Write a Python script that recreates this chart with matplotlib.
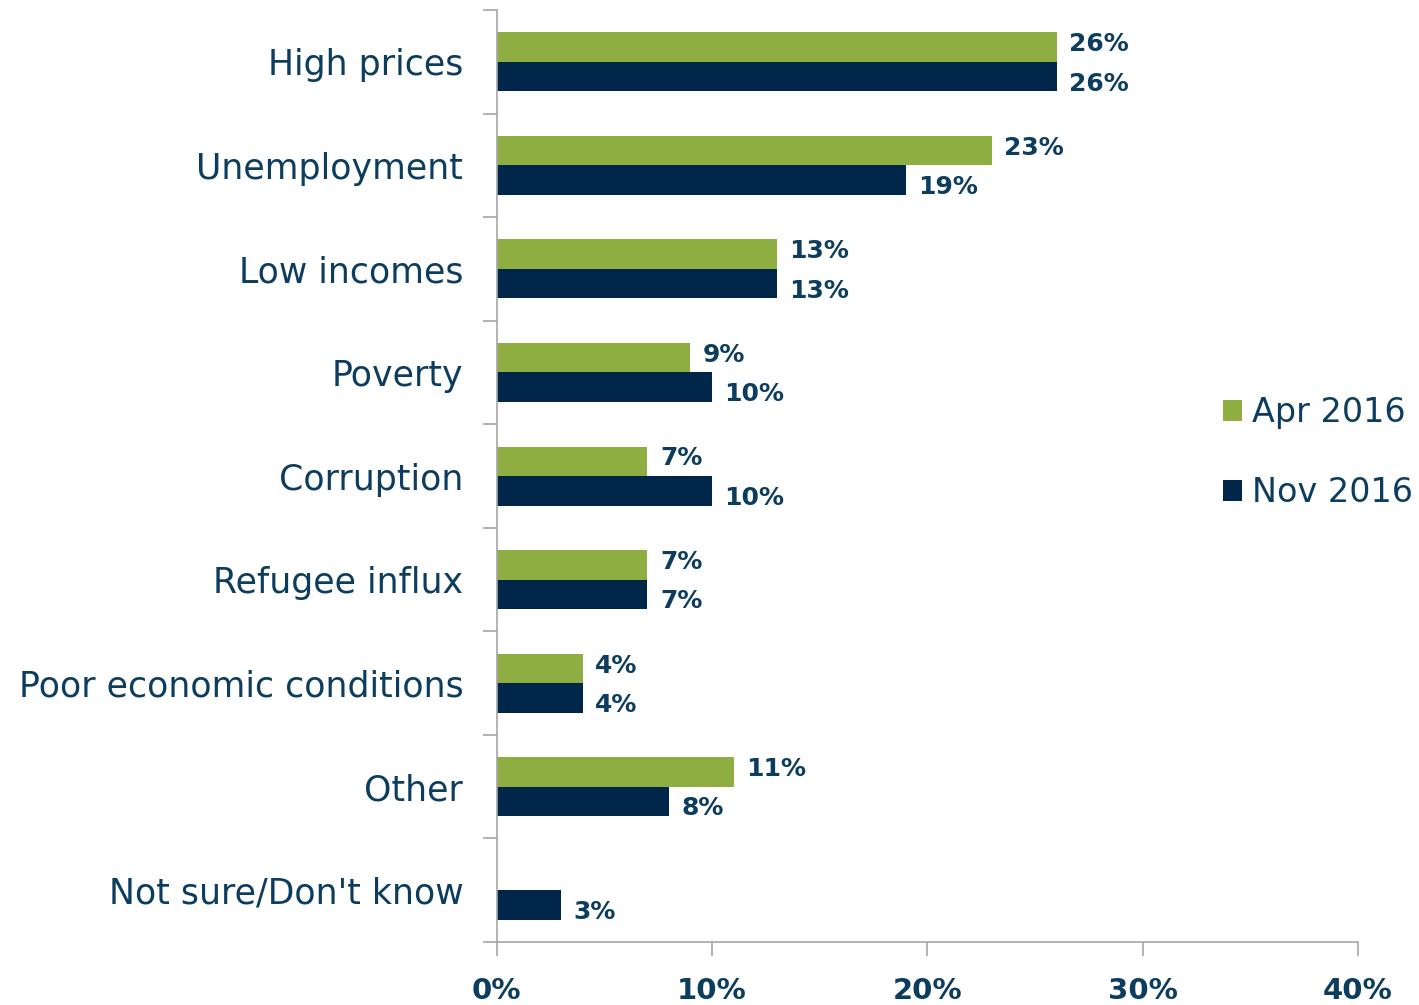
import matplotlib.pyplot as plt
import numpy as np
from matplotlib.ticker import FixedLocator

categories = ["High prices", "Unemployment", "Low incomes", "Poverty", "Corruption",
              "Refugee influx", "Poor economic conditions", "Other", "Not sure/Don't know"]
apr_2016 = [26, 23, 13, 9, 7, 7, 4, 11, None]
nov_2016 = [26, 19, 13, 10, 10, 7, 4, 8, 3]
xticks = [0, 10, 20, 30, 40]

green = "#8fae42"
navy = "#00264a"
txt = "#0d3d5e"
grey = "#a6a6a6"

plt.rcParams['font.family'] = ['DejaVu Sans']

fig = plt.figure(figsize=(14.19, 10.05), dpi=100)
ax = fig.add_axes([0.350, 0.0627, 0.607, 0.9273])

y = np.arange(len(categories))
h = 0.285
apr_vals = [v if v is not None else 0 for v in apr_2016]
b1 = ax.barh(y - h / 2, apr_vals, height=h, color=green, label="Apr 2016")
b2 = ax.barh(y + h / 2, nov_2016, height=h, color=navy, label="Nov 2016")

for i, v in enumerate(apr_2016):
    if v is None:
        continue
    ax.annotate(f"{v}%", (v, i - h / 2), xytext=(9, 2), textcoords="offset points",
                va="center", ha="left", fontsize=18, fontweight="bold", color=txt)
for i, v in enumerate(nov_2016):
    ax.annotate(f"{v}%", (v, i + h / 2), xytext=(9, -5), textcoords="offset points",
                va="center", ha="left", fontsize=18, fontweight="bold", color=txt)

ax.set_xlim(0, 40)
ax.set_ylim(len(categories) - 0.5, -0.5)
ax.set_xticks(xticks)
ax.set_xticklabels([f"{t}%" for t in xticks], fontsize=21, fontweight="bold", color=txt)
ax.set_yticks(y)
ax.set_yticklabels(categories, fontsize=25, color=txt)
ax.yaxis.set_minor_locator(FixedLocator(np.arange(-0.5, len(categories) - 0.4, 1)))
ax.tick_params(axis="y", which="major", length=0, pad=24)
ax.tick_params(axis="y", which="minor", length=10, color=grey, width=1.2)
ax.tick_params(axis="x", length=10, color=grey, width=1.2, pad=15)

for s in ["top", "right"]:
    ax.spines[s].set_visible(False)
for s in ["left", "bottom"]:
    ax.spines[s].set_color(grey)
    ax.spines[s].set_linewidth(1.2)

leg = ax.legend(loc="center left", bbox_to_anchor=(0.843, 0.525), frameon=False,
                fontsize=24, handlelength=0.58, handleheight=0.58, handletextpad=0.3,
                labelspacing=1.4, borderpad=0, borderaxespad=0, labelcolor=txt)

fig.savefig("out.png", dpi=100)
